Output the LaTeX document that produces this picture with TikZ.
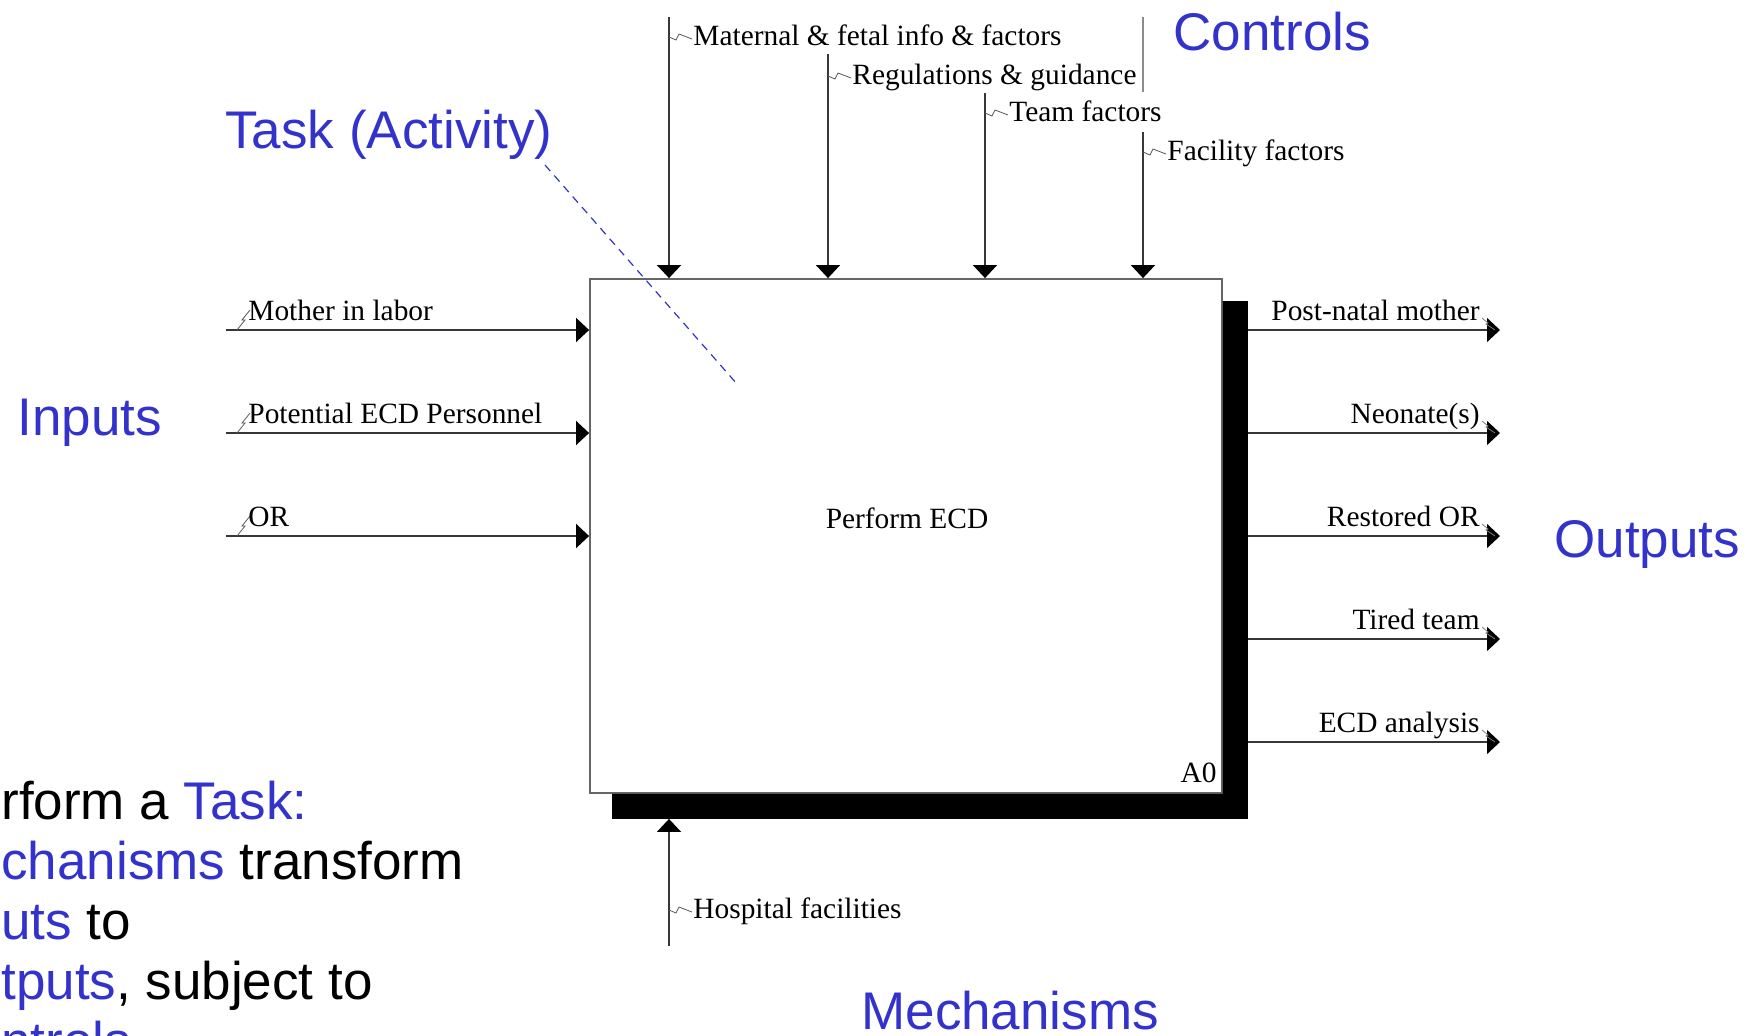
\documentclass[tikz,border=0pt]{standalone}
\usepackage{fontspec}
\setmainfont{Liberation Serif}
\newfontfamily\headfont{Liberation Sans}
\usetikzlibrary{arrows.meta,calc}
\definecolor{idefblue}{RGB}{51,51,204}
\definecolor{wirecol}{RGB}{55,55,55}

\begin{document}
\begin{tikzpicture}[x=0.5pt,y=-0.5pt,
  wire/.style={draw=wirecol, line width=0.7pt},
  arr/.style={wire, -{Triangle[width=12pt,length=6.5pt,color=black]}},
  zz/.style={draw=black!65, line width=0.4pt, line join=miter},
  lbl/.style={font=\fontsize{14.7}{17}\selectfont, inner sep=0pt},
  head/.style={font=\headfont\fontsize{26.5}{30}\selectfont, text=idefblue, inner sep=0pt},
]
\useasboundingbox (0,0) rectangle (1755,1035);
\fill[white] (0,0) rectangle (1755,1035);

% activity box with its heavy shadow
\node[draw=black!60, line width=0.9pt, minimum width=316pt, minimum height=257pt, inner sep=0pt] (box) at (906,536) {};
\fill[black] ($(box.south west)+(23,0)$) -- (box.south east) -- ($(box.north east)+(0,23)$)
  -- ++(25,0) -- ($(box.south east)+(25,25)$) -- ($(box.south west)+(23,25)$) -- cycle;
\coordinate (shb) at ($(box.south west)+(0,25)$);
\coordinate (shr) at ($(box.north east)+(25,0)$);

\node[lbl] (act) at (907,518) {Perform ECD};
\node[lbl, anchor=base east] (num) at (1217,782) {A0};

% controls
\coordinate (c1) at (669,17);
\coordinate (c2) at (828,54);
\coordinate (c3) at (985,93);
\coordinate (c4) at (1143,132);
\foreach \c in {c1,c2,c3,c4} \draw[arr] (\c) -- (\c |- box.north);
\node[lbl, anchor=base west] (l1) at (693,45) {Maternal \& fetal info \& factors};
\node[lbl, anchor=base west] (l2) at (852,84) {Regulations \& guidance};
\node[lbl, anchor=base west] (l3) at (1009,121) {Team factors};
\node[lbl, anchor=base west] (l4) at (1167,160) {Facility factors};
\foreach \c/\y in {c1/37,c2/76,c3/113,c4/152}
  \draw[zz] (\c |- 0,\y) -- ++(7,3) -- ++(3,-6) -- ++(13,5);
\coordinate (g1) at (1143,17);
\coordinate (g2) at (1143,92);
\draw[draw=black!45, line width=0.8pt] (g1) -- (g2);

% inputs
\coordinate (i1) at (226,330);
\coordinate (i2) at (226,433);
\coordinate (i3) at (226,536);
\foreach \c in {i1,i2,i3} {
  \draw[arr] (\c) -- (\c -| box.west);
  \draw[zz] ($(\c)+(11,0)$) -- ++(8,-10) -- ++(-3,0) -- ++(8,-10);
}
\node[lbl, anchor=base west] (n1) at (248,320) {Mother in labor};
\node[lbl, anchor=base west] (n2) at (248,423) {Potential ECD Personnel};
\node[lbl, anchor=base west] (n3) at (248,526) {OR};

% outputs
\foreach \k/\y in {1/330,2/433,3/536,4/639,5/742} {
  \coordinate (os\k) at (shr |- 0,\y);
  \coordinate (oe\k) at (1500,\y);
  \draw[arr] (os\k) -- (oe\k);
  \draw[zz, black!50] (1482,\y-12) -- ++(6,5) -- ++(-2,1) -- ++(9,6);
}
\node[lbl, anchor=base east] (p1) at (1480,320) {Post-natal mother};
\node[lbl, anchor=base east] (p2) at (1480,423) {Neonate(s)};
\node[lbl, anchor=base east] (p3) at (1480,526) {Restored OR};
\node[lbl, anchor=base east] (p4) at (1480,629) {Tired team};
\node[lbl, anchor=base east] (p5) at (1480,732) {ECD analysis};

% mechanism
\coordinate (m1) at (669,946);
\draw[arr] (m1) -- (m1 |- shb);
\draw[zz] (669,910) -- ++(7,3) -- ++(3,-6) -- ++(13,5);
\node[lbl, anchor=base west] (h1) at (693,918) {Hospital facilities};

% category headings
\node[head, anchor=base west] (hctl) at (1173,50) {Controls};
\node[head, anchor=base west] (htask) at (225,148) {Task (Activity)};
\node[head, anchor=base west] (hin) at (17,435) {Inputs};
\node[head, anchor=base west] (hout) at (1554,557) {Outputs};
\node[head, anchor=base west] (hmech) at (861,1029) {Mechanisms};

\coordinate (tk1) at (545,165);
\coordinate (tk2) at (737,384);
\draw[idefblue, line width=0.6pt, dash pattern=on 4pt off 3pt] (tk1) -- (tk2);

% explanatory note (its base anchor is the baseline of the last line)
\node[head, text=black, anchor=base west, align=left] (note) at (1,1059)
  {rform a \textcolor{idefblue}{Task:}\\
   \textcolor{idefblue}{chanisms} transform\\
   \textcolor{idefblue}{uts} to\\
   \textcolor{idefblue}{tputs}, subject to\\
   \textcolor{idefblue}{ntrols}.};
\end{tikzpicture}
\end{document}
